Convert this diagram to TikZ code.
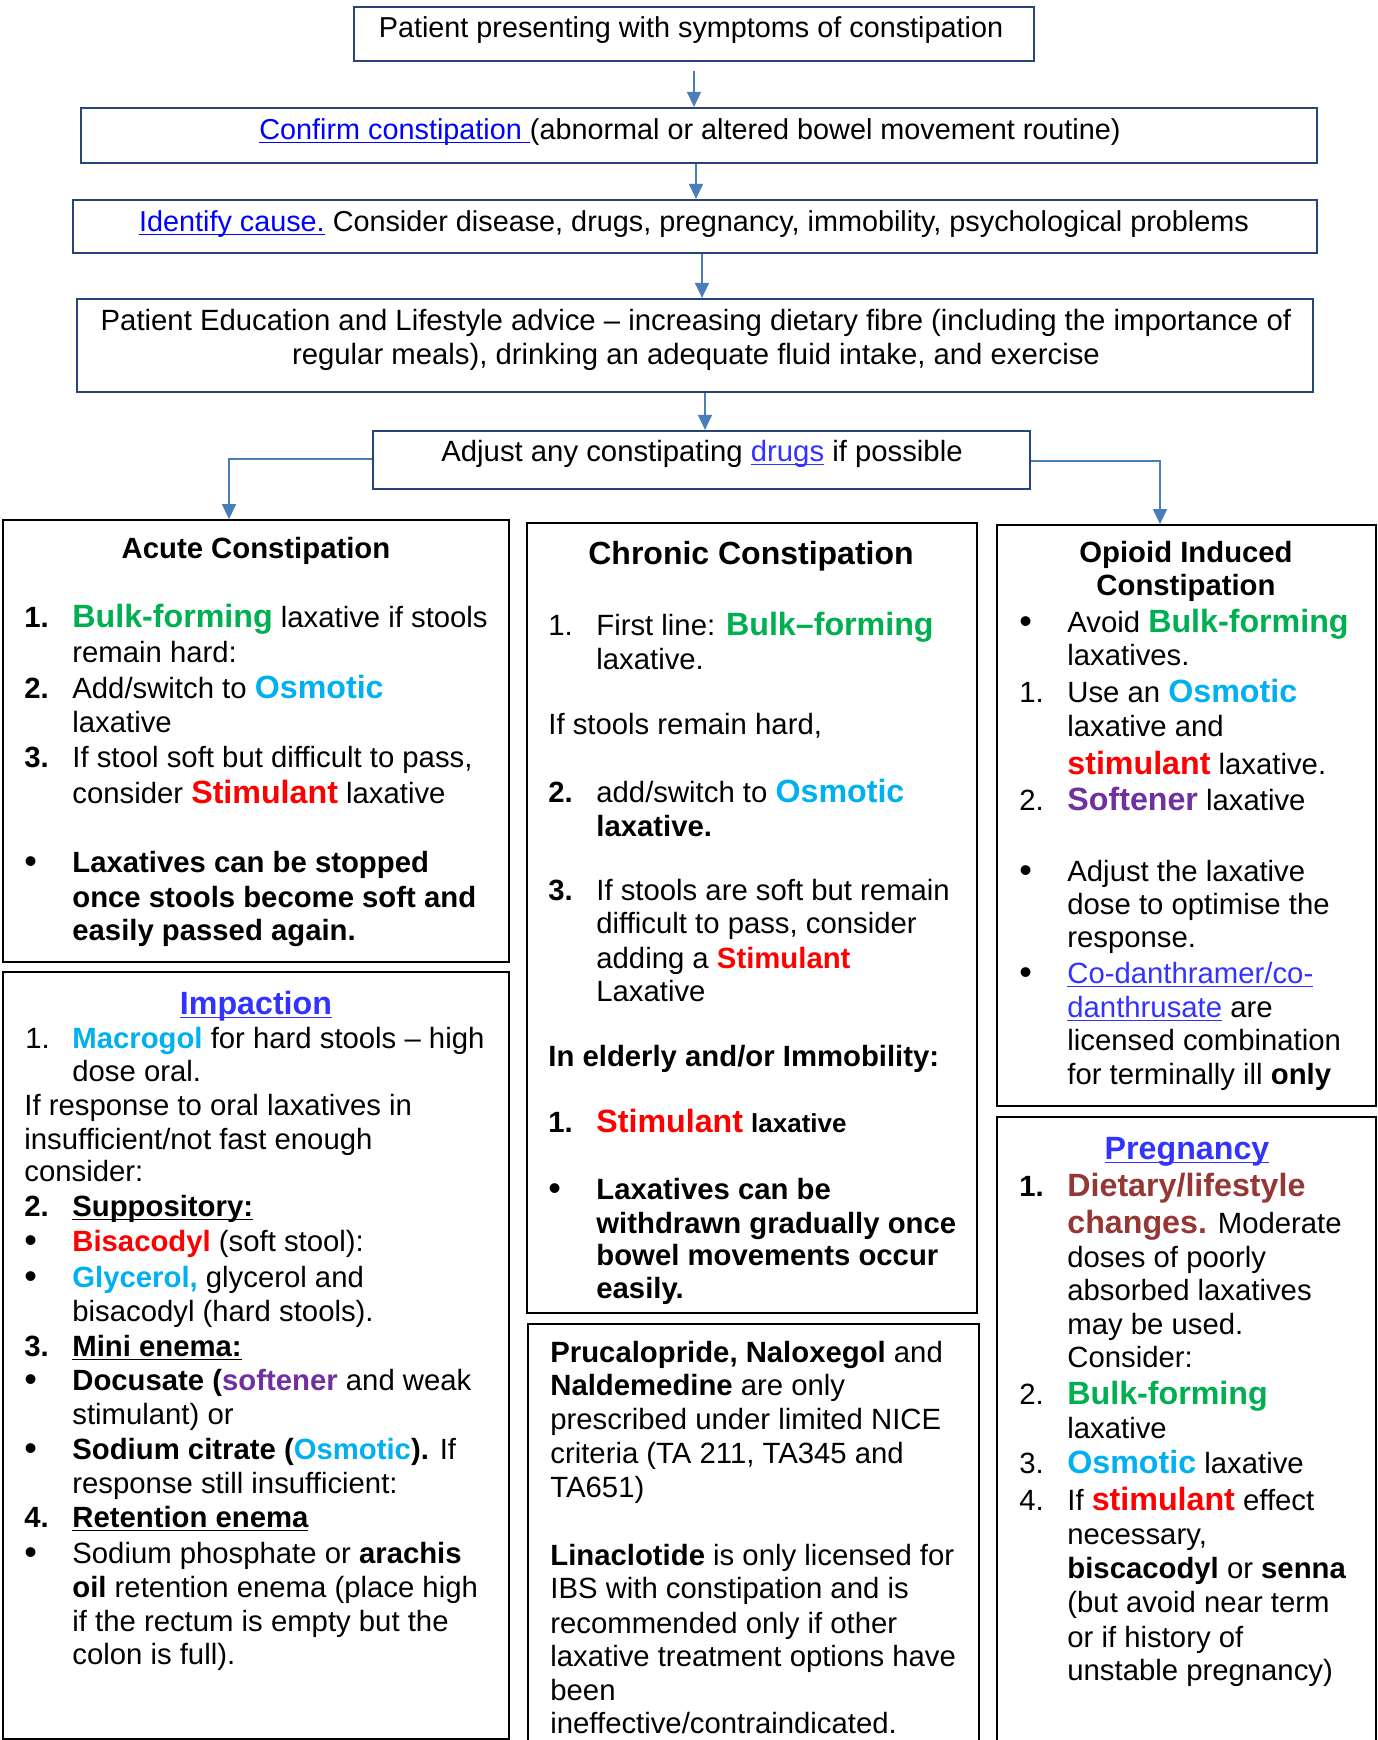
\documentclass[tikz,border=0pt]{standalone}
\usepackage{fontspec}
\setmainfont{Liberation Sans}
\usetikzlibrary{arrows.meta,fit}
\definecolor{bulk}{HTML}{00B050}
\definecolor{osm}{HTML}{00B0F0}
\definecolor{stim}{HTML}{FF0000}
\definecolor{soft}{HTML}{7030A0}
\definecolor{diet}{HTML}{953735}
\definecolor{lnkA}{HTML}{0000FF}
\definecolor{lnkB}{HTML}{3333FF}
\definecolor{topframe}{HTML}{264478}
\definecolor{arrowc}{HTML}{4A7EBB}
\newcommand{\nsz}{\fontsize{14.65}{17}\selectfont}
\newcommand{\tsz}{\fontsize{14.4}{17}\selectfont}
\newcommand{\bsz}{\fontsize{16.1}{18}\selectfont}
\newcommand{\kw}[2]{{\color{#1}\bsz\bfseries #2}}
\newcommand{\kb}[2]{{\color{#1}\bfseries #2}}
\newcommand{\bul}{\raisebox{-0.7pt}{\fontsize{18}{18}\selectfont •}}
\newsavebox{\ulbx}
\newcommand{\myul}[1]{\sbox{\ulbx}{#1}\rlap{\rule[-2.2pt]{\wd\ulbx}{0.8pt}}\usebox{\ulbx}}
\newcommand{\Ln}[4]{\node[ln] (#1) at (#2,#3) {#4};}
\newcommand{\Ct}[4]{\node[ctr] (#1) at (#2,#3) {#4};}
\tikzset{
  ln/.style={anchor=base west, inner sep=0pt, font=\nsz},
  ctr/.style={anchor=base, inner sep=0pt, font=\nsz},
  topbox/.style={draw=topframe, line width=1.1pt, inner sep=0pt},
  panel/.style={draw=black, line width=0.9pt, inner sep=0pt},
  arr/.style={draw=arrowc, line width=0.7pt, -{Triangle[width=7pt,length=7.5pt]}}
}
\begin{document}
\begin{tikzpicture}[x=0.5pt,y=-0.5pt]
\useasboundingbox[fill=white] (0,0) rectangle (1377,1740);
% boxes
\node[topbox, fit={(354,7)(1034,61)}] (b1) {};
\node[topbox, fit={(81,108)(1317,163)}] (b2) {};
\node[topbox, fit={(73,200)(1317,253)}] (b3) {};
\node[topbox, fit={(77,299)(1313,392)}] (b4) {};
\node[topbox, fit={(373,431)(1030,489)}] (b5) {};
\node[panel, fit={(3,520)(509,962)}] (acute) {};
\node[panel, fit={(3,972)(509,1739)}] (impact) {};
\node[panel, fit={(527,523)(977,1313)}] (chronic) {};
\node[panel, fit={(528,1324)(979,1760)}] (pruc) {};
\node[panel, fit={(997,525)(1376,1106)}] (opioid) {};
\node[panel, fit={(997,1117)(1376,1760)}] (preg) {};
% connectors
\coordinate (c1) at (694,71);
\draw[arr] (c1) -- (b2.north -| c1);
\coordinate (c2) at (696,164);
\draw[arr] (b2.south -| c2) -- (b3.north -| c2);
\coordinate (c3) at (702,253);
\draw[arr] (b3.south -| c3) -- (b4.north -| c3);
\coordinate (c4) at (705,393);
\draw[arr] (b4.south -| c4) -- (b5.north -| c4);
\coordinate (cl) at (229,459);
\draw[arr] (b5.west |- cl) -- (cl) -- (acute.north -| cl);
\coordinate (cr) at (1160,461);
\draw[arr] (b5.east |- cr) -- (cr) -- (opioid.north -| cr);
% top texts
\Ct{t1}{691}{37}{\tsz Patient presenting with symptoms of constipation}
\Ct{t2}{690}{139}{\tsz{\color{lnkA}\myul{Confirm constipation }}(abnormal or altered bowel movement routine)}
\Ct{t3}{694}{231}{\tsz{\color{lnkA}\myul{Identify cause.}} Consider disease, drugs, pregnancy, immobility, psychological problems}
\Ct{t4a}{696}{330}{Patient Education and Lifestyle advice – increasing dietary fibre (including the importance of}
\Ct{t4b}{696}{364}{regular meals), drinking an adequate fluid intake, and exercise}
\Ct{t5}{702}{461}{Adjust any constipating {\color{lnkB}\myul{drugs}} if possible}
% Acute
\Ct{ah}{256}{558}{\bfseries Acute Constipation}
\Ln{an1}{24}{627}{\bfseries 1.}
\Ln{a1}{72}{627}{\kw{bulk}{Bulk-forming} laxative if stools}
\Ln{a2}{72}{662}{remain hard:}
\Ln{an2}{24}{698}{\bfseries 2.}
\Ln{a3}{72}{698}{Add/switch to \kw{osm}{Osmotic}}
\Ln{a4}{72}{732}{laxative}
\Ln{an3}{24}{767}{\bfseries 3.}
\Ln{a5}{72}{767}{If stool soft but difficult to pass,}
\Ln{a6}{72}{803}{consider \kw{stim}{Stimulant} laxative}
\Ln{ab1}{24}{872}{\bul}
\Ln{a7}{72}{872}{\bfseries Laxatives can be stopped}
\Ln{a8}{72}{907}{\bfseries once stools become soft and}
\Ln{a9}{72}{940}{\bfseries easily passed again.}
% Impaction
\Ct{ih}{256}{1014}{\kw{lnkB}{\myul{Impaction}}}
\Ln{in1}{25}{1048}{1.}
\Ln{i1}{72}{1048}{\kb{osm}{Macrogol} for hard stools – high}
\Ln{i2}{72}{1081}{dose oral.}
\Ln{i3}{24}{1115}{If response to oral laxatives in}
\Ln{i4}{24}{1149}{insufficient/not fast enough}
\Ln{i5}{24}{1181}{consider:}
\Ln{in2}{24}{1216}{\bfseries 2.}
\Ln{i6}{72}{1216}{\bfseries\myul{Suppository:}}
\Ln{ib1}{24}{1251}{\bul}
\Ln{i7}{72}{1251}{\kb{stim}{Bisacodyl} (soft stool):}
\Ln{ib2}{24}{1287}{\bul}
\Ln{i8}{72}{1287}{\kb{osm}{Glycerol,} glycerol and}
\Ln{i9}{72}{1321}{bisacodyl (hard stools).}
\Ln{in3}{24}{1356}{\bfseries 3.}
\Ln{i10}{72}{1356}{\bfseries\myul{Mini enema:}}
\Ln{ib3}{24}{1390}{\bul}
\Ln{i11}{72}{1390}{\textbf{Docusate (}\kb{soft}{softener} and weak}
\Ln{i12}{72}{1424}{stimulant) or}
\Ln{ib4}{24}{1459}{\bul}
\Ln{i13}{72}{1459}{\textbf{Sodium citrate (}\kb{osm}{Osmotic}\textbf{).} If}
\Ln{i14}{72}{1493}{response still insufficient:}
\Ln{in4}{24}{1527}{\bfseries 4.}
\Ln{i15}{72}{1527}{\bfseries\myul{Retention enema}}
\Ln{ib5}{24}{1563}{\bul}
\Ln{i16}{72}{1563}{Sodium phosphate or \textbf{arachis}}
\Ln{i17}{72}{1597}{\textbf{oil} retention enema (place high}
\Ln{i18}{72}{1631}{if the rectum is empty but the}
\Ln{i19}{72}{1664}{colon is full).}
% Chronic
\Ct{ch}{751}{564}{\fontsize{16}{19}\selectfont\bfseries Chronic Constipation}
\Ln{cn1}{548}{635}{1.}
\Ln{c1}{596}{635}{First line: \kw{bulk}{Bulk–forming}}
\Ln{c2}{596}{669}{laxative.}
\Ln{c3}{548}{734}{If stools remain hard,}
\Ln{cn2}{548}{802}{\bfseries 2.}
\Ln{c4}{596}{802}{add/switch to \kw{osm}{Osmotic}}
\Ln{c5}{596}{836}{\bfseries laxative.}
\Ln{cn3}{548}{900}{\bfseries 3.}
\Ln{c6}{596}{900}{If stools are soft but remain}
\Ln{c7}{596}{933}{difficult to pass, consider}
\Ln{c8}{596}{968}{adding a \kb{stim}{Stimulant}}
\Ln{c9}{596}{1001}{Laxative}
\Ln{c10}{548}{1066}{\bfseries In elderly and/or Immobility:}
\Ln{cn4}{548}{1132}{\bfseries 1.}
\Ln{c11}{596}{1132}{\kw{stim}{Stimulant} {\fontsize{13}{15}\selectfont\bfseries laxative}}
\Ln{cb1}{548}{1199}{\bul}
\Ln{c12}{596}{1199}{\bfseries Laxatives can be}
\Ln{c13}{596}{1233}{\bfseries withdrawn gradually once}
\Ln{c14}{596}{1265}{\bfseries bowel movements occur}
\Ln{c15}{596}{1298}{\bfseries easily.}
% Prucalopride
\Ln{p1}{550}{1362}{\textbf{Prucalopride, Naloxegol} and}
\Ln{p2}{550}{1395}{\textbf{Naldemedine} are only}
\Ln{p3}{550}{1429}{prescribed under limited NICE}
\Ln{p4}{550}{1463}{criteria (TA 211, TA345 and}
\Ln{p5}{550}{1497}{TA651)}
\Ln{p6}{550}{1565}{\textbf{Linaclotide} is only licensed for}
\Ln{p7}{550}{1598}{IBS with constipation and is}
\Ln{p8}{550}{1633}{recommended only if other}
\Ln{p9}{550}{1666}{laxative treatment options have}
\Ln{p10}{550}{1700}{been}
\Ln{p11}{550}{1733}{ineffective/contraindicated.}
% Opioid
\Ct{oh1}{1186}{562}{\bfseries Opioid Induced}
\Ct{oh2}{1186}{595}{\bfseries Constipation}
\Ln{ob1}{1019}{632}{\bul}
\Ln{o1}{1067}{632}{Avoid \kw{bulk}{Bulk-forming}}
\Ln{o2}{1067}{665}{laxatives.}
\Ln{on1}{1019}{702}{1.}
\Ln{o3}{1067}{702}{Use an \kw{osm}{Osmotic}}
\Ln{o4}{1067}{736}{laxative and}
\Ln{o5}{1067}{774}{\kw{stim}{stimulant} laxative.}
\Ln{on2}{1019}{810}{2.}
\Ln{o6}{1067}{810}{\kw{soft}{Softener} laxative}
\Ln{ob2}{1019}{881}{\bul}
\Ln{o7}{1067}{881}{Adjust the laxative}
\Ln{o8}{1067}{914}{dose to optimise the}
\Ln{o9}{1067}{947}{response.}
\Ln{ob3}{1019}{983}{\bul}
\Ln{o10}{1067}{983}{{\color{lnkB}\myul{Co-danthramer/co-}}}
\Ln{o11}{1067}{1017}{{\color{lnkB}\myul{danthrusate}} are}
\Ln{o12}{1067}{1050}{licensed combination}
\Ln{o13}{1067}{1084}{for terminally ill \textbf{only}}
% Pregnancy
\Ct{gh}{1187}{1159}{\kw{lnkB}{\myul{Pregnancy}}}
\Ln{gn1}{1019}{1196}{\bfseries 1.}
\Ln{g1}{1067}{1196}{\kw{diet}{Dietary/lifestyle}}
\Ln{g2}{1067}{1233}{\kw{diet}{changes.} Moderate}
\Ln{g3}{1067}{1267}{doses of poorly}
\Ln{g4}{1067}{1300}{absorbed laxatives}
\Ln{g5}{1067}{1334}{may be used.}
\Ln{g6}{1067}{1367}{Consider:}
\Ln{gn2}{1019}{1404}{2.}
\Ln{g7}{1067}{1404}{\kw{bulk}{Bulk-forming}}
\Ln{g8}{1067}{1438}{laxative}
\Ln{gn3}{1019}{1473}{3.}
\Ln{g9}{1067}{1473}{\kw{osm}{Osmotic} laxative}
\Ln{gn4}{1019}{1510}{4.}
\Ln{g10}{1067}{1510}{If \kw{stim}{stimulant} effect}
\Ln{g11}{1067}{1544}{necessary,}
\Ln{g12}{1067}{1578}{\textbf{biscacodyl} or \textbf{senna}}
\Ln{g13}{1067}{1612}{(but avoid near term}
\Ln{g14}{1067}{1647}{or if history of}
\Ln{g15}{1067}{1680}{unstable pregnancy)}
\end{tikzpicture}
\end{document}
